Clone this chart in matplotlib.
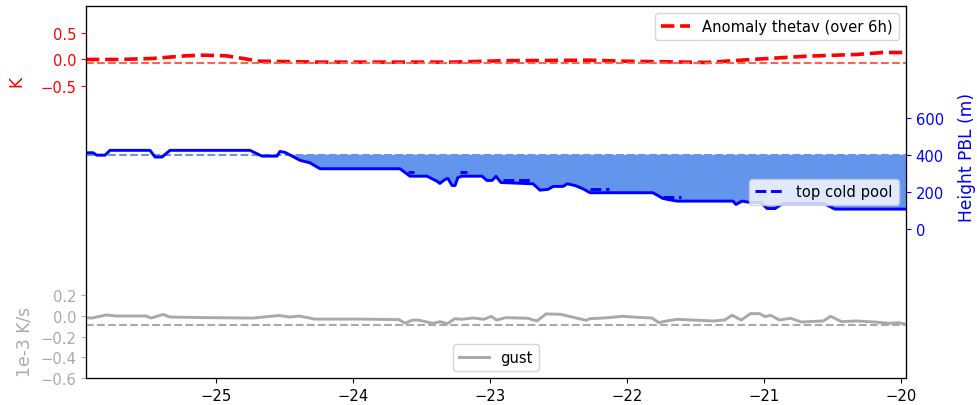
import numpy as np
import matplotlib
matplotlib.use("Agg")
import matplotlib.pyplot as plt

plt.rcParams['font.size'] = 10.6

# ---------------- data ----------------
red_t = [-25.947, -25.706, -25.458, -25.217, -25.093, -24.925, -24.801, -24.684,
         -24.246, -23.757, -23.268, -22.903, -22.268, -22.027, -21.414, -21.049,
         -20.684, -20.319, -20.129, -19.961]
red_v = [-0.006, -0.006, 0.013, 0.063, 0.075, 0.063, 0.013, -0.038,
         -0.056, -0.056, -0.056, -0.03, -0.02, -0.038, -0.062, 0.0,
         0.056, 0.088, 0.125, 0.125]
red_ref = -0.08

pbl_t = [-25.947, -25.895, -25.869, -25.808, -25.772, -25.480, -25.443, -25.392,
         -25.334, -24.750, -24.662, -24.553, -24.531, -24.494, -24.384, -24.312,
         -24.239, -23.655, -23.582, -23.458, -23.385, -23.364, -23.327, -23.305,
         -23.275, -23.253, -23.232, -23.202, -23.056, -23.020, -22.983, -22.954,
         -22.918, -22.684, -22.633, -22.574, -22.537, -22.464, -22.435, -22.377,
         -22.318, -22.268, -21.808, -21.735, -21.633, -21.224, -21.202, -21.158,
         -21.100, -21.020, -20.975, -20.917, -20.860, -20.560, -20.480, -19.961]
pbl_h = [411, 411, 398, 398, 424, 424, 388, 388,
         424, 424, 393, 393, 418, 413, 370, 357,
         325, 325, 285, 285, 258, 246, 267, 273,
         235, 235, 278, 285, 285, 262, 262, 284,
         251, 244, 210, 214, 230, 230, 244, 235,
         217, 196, 196, 165, 151, 151, 133, 151,
         144, 144, 111, 111, 138, 138, 108, 108]
pbl_ref = 400

tcp_t = [-23.600, -23.555, np.nan, -23.215, -23.165, np.nan, -22.900, -22.700,
         np.nan, -22.270, -22.130, np.nan, -21.735, -21.600]
tcp_h = [307, 307, np.nan, 307, 307, np.nan, 262, 262,
         np.nan, 217, 217, np.nan, 174, 174]

gust_t = [-25.947, -25.903, -25.800, -25.728, -25.509, -25.472, -25.385, -25.334,
          -25.115, -24.728, -24.538, -24.458, -24.392, -24.275, -23.947, -23.662,
          -23.618, -23.566, -23.522, -23.415, -23.362, -23.309, -23.255, -23.202,
          -23.122, -23.042, -22.989, -22.949, -22.882, -22.723, -22.655, -22.589,
          -22.482, -22.429, -22.296, -22.269, -22.163, -22.030, -21.923, -21.817,
          -21.764, -21.710, -21.630, -21.523, -21.364, -21.284, -21.231, -21.164,
          -21.097, -21.031, -20.990, -20.950, -20.884, -20.804, -20.724, -20.564,
          -20.511, -20.431, -20.325, -20.191, -20.085, -20.018, -19.961]
gust_v = [-0.016, -0.02, 0.01, 0.0, 0.0, -0.02, 0.015, -0.01,
          -0.015, -0.02, 0.005, -0.01, 0.0, -0.03, -0.03, -0.035,
          -0.07, -0.04, -0.039, -0.071, -0.055, -0.074, -0.026, -0.032,
          -0.019, -0.032, -0.003, -0.039, -0.016, -0.022, -0.048, 0.02,
          0.016, 0.0, -0.042, -0.026, -0.019, -0.003, -0.013, -0.019,
          -0.064, -0.048, -0.032, -0.039, -0.048, -0.039, 0.007, -0.039,
          0.023, 0.023, -0.006, 0.007, -0.039, -0.022, -0.058, -0.048,
          -0.003, -0.055, -0.048, -0.058, -0.071, -0.064, -0.08]
gust_ref = -0.09

x_ticks = [-25, -24, -23, -22, -21, -20]

# ---------------- figure ----------------
fig = plt.figure(figsize=(9.77, 4.06), dpi=100)
ax = fig.add_axes([86 / 977, 1 - 379 / 406, 820 / 977, 372 / 406])

# red: anomaly thetav
ax.plot(red_t, red_v, color='red', ls='--', lw=2.6, label='Anomaly thetav (over 6h)')
ax.axhline(red_ref, color='tomato', ls='--', lw=1.5)
ax.set_ylim(-6, 1)
ax.set_yticks([-0.5, 0.0, 0.5])
ax.tick_params(axis='y', colors='red')
ax.set_ylabel('K', color='red', fontsize=12.3)
ax.yaxis.set_label_coords(-0.074, 0.80)
ax.set_xlim(-25.947, -19.961)
ax.set_xticks(x_ticks)
ax.legend(loc='upper right')

# blue: PBL height
axb = ax.twinx()
pbl_t_a = np.array(pbl_t)
pbl_h_a = np.array(pbl_h, dtype=float)
axb.fill_between(pbl_t_a, pbl_h_a, pbl_ref, where=pbl_h_a < pbl_ref,
                 interpolate=True, color='cornflowerblue', lw=0)
axb.axhline(pbl_ref, color='cornflowerblue', ls='--', lw=1.5)
axb.plot(tcp_t, tcp_h, color='blue', ls='--', lw=2.1, label='top cold pool')
axb.plot(pbl_t, pbl_h, color='blue', lw=2.1)
axb.set_ylim(-800, 1200)
axb.set_yticks([0, 200, 400, 600])
axb.tick_params(axis='y', colors='blue')
axb.set_ylabel('Height PBL (m)', color='blue', fontsize=12.3)
axb.yaxis.set_label_coords(1.063, 0.595)
axb.legend(loc='center right')

# gray: gust
axg = ax.twinx()
axg.yaxis.tick_left()
axg.yaxis.set_label_position('left')
axg.plot(gust_t, gust_v, color='darkgray', lw=2.1, label='gust')
axg.axhline(gust_ref, color='darkgray', ls='--', lw=1.5)
axg.set_ylim(-0.6, 3.0)
axg.set_yticks([-0.6, -0.4, -0.2, 0.0, 0.2])
axg.tick_params(axis='y', colors='darkgray')
axg.set_ylabel('1e-3 K/s', color='darkgray', fontsize=12.3)
axg.yaxis.set_label_coords(-0.064, 0.10)
axg.legend(loc='lower center')
axg.set_xlim(-25.947, -19.961)

fig.savefig('out.png', dpi=100)
